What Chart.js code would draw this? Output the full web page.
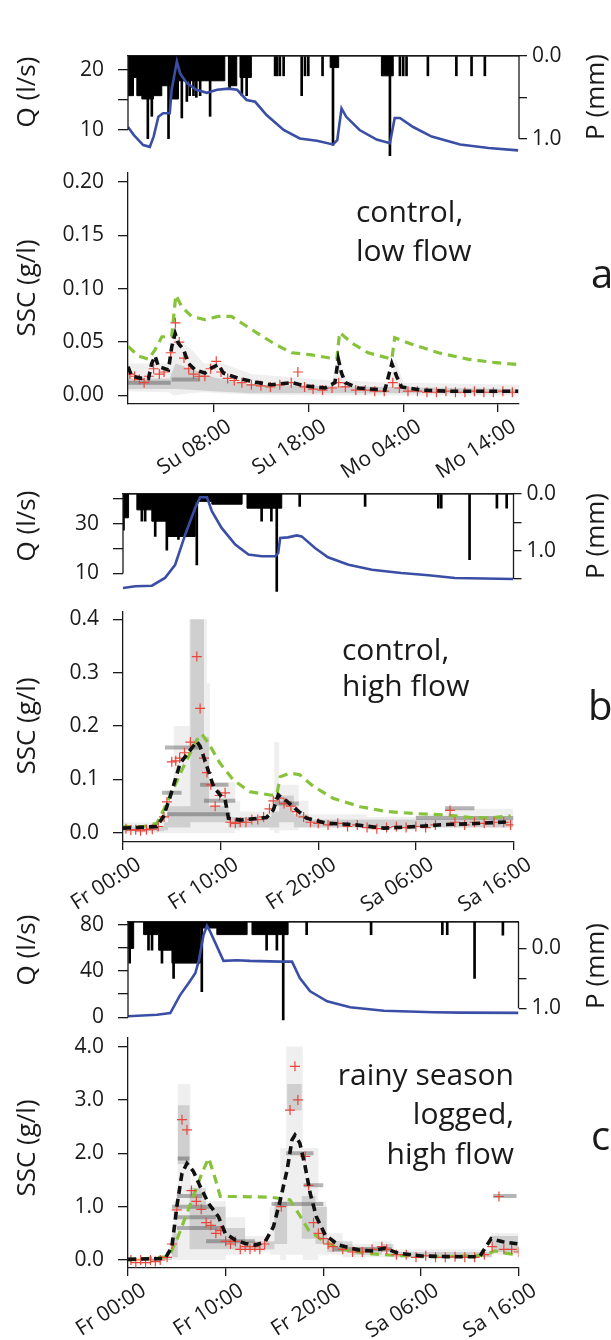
<!DOCTYPE html>
<html>
<head>
<meta charset="utf-8">
<script src="https://cdn.jsdelivr.net/npm/chart.js@4"></script>
<style>
  body { margin: 0; background: #fff; }
  #wrap { position: relative; width: 611px; height: 1340px; }
  #wrap canvas { position: absolute; left: 0; top: 0; }
</style>
</head>
<body>
<div id="wrap">
  <canvas id="qA" width="611" height="1340"></canvas>
  <canvas id="sA" width="611" height="1340"></canvas>
  <canvas id="qB" width="611" height="1340"></canvas>
  <canvas id="sB" width="611" height="1340"></canvas>
  <canvas id="qC" width="611" height="1340"></canvas>
  <canvas id="sC" width="611" height="1340"></canvas>
</div>
<script>
// ---------- panel a: control, low flow (hours from Su 00:00) ----------
const xRangeA = [-1, 40.2];
const xTicksA = [8, 18, 28, 38];
const xLabelsA = ['Su 08:00', 'Su 18:00', 'Mo 04:00', 'Mo 14:00'];

const qTimeA = [-1, -0.4, 0.6, 1.3, 1.7, 2.2, 2.7, 3.4, 3.6, 4.15, 4.5, 5.2, 6.2, 7.3, 8.4, 9.6, 10.5, 11.5, 12.4, 13.6, 15.4, 17.1, 18.9, 20.6, 21.05, 21.5, 22.0, 23.4, 25.2, 26.6, 27.1, 27.65, 29.05, 31, 34, 37, 40.1];
const qA = [10.5, 9.2, 7.5, 7.2, 8.9, 12.2, 12.8, 12.8, 16.7, 21.4, 19.4, 17.8, 16.7, 16.2, 16.7, 16.9, 16.7, 15.0, 14.7, 12.5, 10.0, 8.6, 8.2, 7.6, 8.3, 13.6, 12.2, 10.0, 8.4, 7.8, 12.0, 12.0, 10.5, 8.9, 7.6, 7.0, 6.6];
const qRangeA = [5.67, 22.33];
const qTicksA = [10, 15, 20];
const qLabelsA = [10, 20];

const pBlkTimeA = [-1, -0.42, -0.07, 0.46, 1.69, 2.56, 3.44, 4.32, 9.2, 9.58, 10.46, 10.8, 12.0, 20.3, 21.2, 25.7, 26.95, 40.2];
const pBlkA = [0.48, 0.26, 0.48, 0.52, 0.48, 0.36, 0.52, 0.3, 0, 0.36, 0, 0.26, 0, 0.14, 0, 0.24, 0, 0];
const pSpkTimeA = [1.09, 1.51, 3.27, 4.67, 5.2, 5.5, 5.9, 6.2, 6.6, 7.65, 9.7, 11.0, 11.5, 14.5, 14.7, 15.0, 15.4, 17.3, 17.65, 18.0, 19.5, 20.6, 26.6, 27.65, 28.0, 28.35, 30.6, 33.6, 35.2, 36.6];
const pSpkA = [1.0, 0.73, 1.0, 0.75, 0.55, 0.48, 0.48, 0.5, 0.48, 0.73, 0.4, 0.48, 0.48, 0.24, 0.24, 0.24, 0.24, 0.48, 0.24, 0.24, 0.24, 1.08, 1.21, 0.24, 0.24, 0.24, 0.24, 0.24, 0.24, 0.24];
const pRangeA = [0, 1.21];
const pTicksA = [0, 0.5, 1.0];
const pLabelsA = [0, 1];

const sRangeA = [-0.008, 0.2084];
const sTicksA = [0, 0.05, 0.10, 0.15, 0.20];
const gTimeA = [-1, 0.1, 1.16, 1.86, 2.57, 3.6, 4.04, 4.67, 5.7, 7.1, 8.5, 9.9, 11.3, 12.7, 14.5, 16.25, 18.36, 21.0, 21.3, 22.6, 24.3, 26.8, 27.1, 28.9, 31.7, 34.8, 37.5, 40.1];
const gA = [0.046, 0.037, 0.034, 0.043, 0.055, 0.055, 0.094, 0.083, 0.074, 0.071, 0.074, 0.074, 0.066, 0.058, 0.048, 0.040, 0.038, 0.034, 0.059, 0.049, 0.040, 0.034, 0.054, 0.048, 0.040, 0.034, 0.031, 0.029];
const bTimeA = [-1, -0.6, 0.46, 1.16, 1.5, 1.86, 2.2, 3.26, 3.62, 3.97, 4.3, 4.85, 5.37, 6.07, 7.1, 7.83, 8.53, 9.05, 10.63, 12.4, 14.1, 16.25, 17.65, 19.76, 20.8, 21.16, 21.5, 21.9, 23.26, 26.07, 26.8, 27.3, 27.83, 29.9, 32.7, 36, 40.1];
const bA = [0.027, 0.018, 0.016, 0.016, 0.030, 0.037, 0.027, 0.024, 0.046, 0.058, 0.049, 0.043, 0.030, 0.024, 0.021, 0.026, 0.029, 0.021, 0.016, 0.0125, 0.010, 0.012, 0.009, 0.007, 0.012, 0.034, 0.021, 0.012, 0.007, 0.005, 0.030, 0.018, 0.008, 0.005, 0.004, 0.004, 0.004];
const rTimeA = [-0.8, -0.3, 0.2, 0.7, 1.2, 1.7, 2.3, 2.8, 3.5, 4.0, 4.4, 4.9, 5.4, 5.9, 6.5, 7.1, 7.7, 8.3, 8.8, 9.5, 10.2, 11, 12, 13, 14, 15, 16.2, 16.9, 17.6, 18.5, 19.5, 20.5, 21.2, 21.9, 23, 24, 25, 26, 26.9, 27.6, 28.5, 29.5, 30.5, 31.5, 32.5, 33.5, 34.5, 35.5, 36.5, 37.5, 38.5, 39.5];
const rA = [0.02, 0.018, 0.015, 0.012, 0.018, 0.025, 0.02, 0.022, 0.04, 0.068, 0.05, 0.035, 0.025, 0.02, 0.018, 0.018, 0.025, 0.032, 0.022, 0.016, 0.014, 0.012, 0.01, 0.009, 0.008, 0.01, 0.012, 0.022, 0.008, 0.006, 0.005, 0.007, 0.012, 0.008, 0.005, 0.005, 0.004, 0.004, 0.012, 0.007, 0.004, 0.004, 0.003, 0.003, 0.004, 0.003, 0.003, 0.004, 0.003, 0.003, 0.004, 0.003];
// spread of the individual estimates: outer envelope, dense core, dense streaks
const grayTimeA = [-1, 3.3, 3.8, 5.5, 7, 9, 12, 20.5, 21.1, 22, 26.6, 27.2, 28, 40.2];
const grayLoA = [0.004, 0.003, 0.0, 0.002, 0.003, 0.002, 0.001, 0, 0, 0, 0, 0, 0, 0];
const grayHiA = [0.03, 0.03, 0.055, 0.045, 0.03, 0.03, 0.02, 0.014, 0.035, 0.014, 0.012, 0.035, 0.012, 0.01];
const coreTimeA = [-1, 3.4, 4, 6, 8, 12, 40.2];
const coreLoA = [0.006, 0.006, 0.006, 0.005, 0.004, 0.002, 0.002];
const coreHiA = [0.016, 0.016, 0.03, 0.024, 0.017, 0.01, 0.006];
const streakFromA = [3.6, -1];
const streakToA = [6.5, 3.5];
const streakA = [0.015, 0.012];

// ---------- panel b: control, high flow (hours from Fr 00:00) ----------
const xRangeB = [0, 40];
const xTicksB = [0, 10, 20, 30, 40];
const xLabelsB = ['Fr 00:00', 'Fr 10:00', 'Fr 20:00', 'Sa 06:00', 'Sa 16:00'];

const qTimeB = [0, 1.25, 2.96, 4.3, 5.34, 6.37, 7.39, 7.9, 8.6, 9.1, 10.1, 11.5, 12.85, 14.2, 15.6, 15.9, 16.1, 16.9, 17.8, 18.3, 19.67, 21.0, 23.1, 25.5, 28.5, 31.3, 34, 37, 40];
const qB = [4.2, 4.9, 5.1, 8.2, 13.5, 25.6, 36.3, 40.6, 40.6, 35.0, 28.3, 21.6, 17.6, 16.9, 16.9, 18.2, 24.3, 24.5, 25.3, 24.9, 20.2, 16.5, 13.5, 11.5, 10.2, 9.3, 8.2, 8.0, 7.8];
const qRangeB = [2.57, 41.9];
const qTicksB = [10, 20, 30, 40];
const qLabelsB = [10, 30];

const pBlkTimeB = [0, 0.57, 1.42, 2.95, 4.49, 7.4, 9.1, 12.2, 12.7, 16.26, 40];
const pBlkB = [0.42, 0, 0.28, 0.48, 0.75, 0.13, 0.18, 0, 0.25, 0, 0];
const pSpkTimeB = [0.05, 1.93, 2.27, 3.3, 4.49, 5.68, 7.56, 14.2, 15.2, 15.75, 18.1, 24.8, 32.3, 32.6, 35.5, 38.3, 39.3];
const pSpkB = [0.64, 0.48, 0.48, 0.75, 0.99, 0.8, 1.25, 0.48, 0.48, 1.72, 0.22, 0.22, 0.25, 0.25, 1.16, 0.25, 0.25];
const pRangeB = [0, 1.73];
const pTicksB = [0, 0.5, 1.0, 1.5];
const pLabelsB = [0, 1];

const sRangeB = [-0.017, 0.414];
const sTicksB = [0, 0.1, 0.2, 0.3, 0.4];
const gTimeB = [0, 2.1, 3.47, 4.5, 6.2, 7.56, 8.07, 8.75, 9.95, 11.3, 13.0, 15.07, 15.75, 16.1, 17.1, 18.1, 19.5, 21.5, 24.3, 27.0, 30.1, 32.8, 35.5, 37.5, 39.7];
const gB = [0.012, 0.012, 0.018, 0.056, 0.124, 0.174, 0.185, 0.168, 0.13, 0.099, 0.077, 0.071, 0.071, 0.105, 0.112, 0.109, 0.087, 0.065, 0.049, 0.040, 0.036, 0.034, 0.029, 0.028, 0.032];
const bTimeB = [0, 3.47, 4.15, 4.83, 5.85, 6.88, 7.56, 7.9, 8.6, 9.27, 9.95, 10.46, 10.8, 12.0, 14.7, 15.4, 15.9, 16.8, 17.8, 18.8, 20.9, 23.6, 26.7, 30.1, 32.8, 35.5, 39.7];
const bB = [0.009, 0.012, 0.031, 0.068, 0.13, 0.155, 0.171, 0.162, 0.124, 0.087, 0.071, 0.062, 0.0275, 0.024, 0.029, 0.043, 0.071, 0.059, 0.043, 0.0275, 0.018, 0.0155, 0.009, 0.012, 0.0155, 0.017, 0.021];
const rTimeB = [0.3, 0.8, 1.3, 1.8, 2.4, 3, 3.6, 4.2, 4.5, 5.0, 5.4, 5.8, 6.3, 6.9, 7.56, 7.9, 8.3, 8.6, 9.0, 9.44, 9.9, 10.46, 11, 11.5, 12, 12.6, 13.2, 13.8, 14.4, 15.0, 15.4, 16, 16.5, 17.2, 17.8, 18.5, 19.2, 20, 21, 22, 23, 24, 25, 26, 27, 28, 29, 30, 31, 32, 33.5, 34, 35, 36, 37, 38, 39, 39.7];
const rB = [0.008, 0.005, 0.006, 0.004, 0.006, 0.007, 0.012, 0.03, 0.058, 0.133, 0.135, 0.14, 0.15, 0.17, 0.33, 0.233, 0.14, 0.113, 0.09, 0.05, 0.07, 0.075, 0.02, 0.018, 0.02, 0.02, 0.025, 0.025, 0.03, 0.045, 0.06, 0.065, 0.055, 0.05, 0.04, 0.03, 0.02, 0.018, 0.015, 0.018, 0.012, 0.015, 0.01, 0.008, 0.01, 0.012, 0.01, 0.012, 0.01, 0.015, 0.042, 0.02, 0.015, 0.02, 0.018, 0.02, 0.02, 0.015];
const grayTimeB = [0, 4.0, 4.5, 5.2, 6.8, 8.6, 8.9, 11.5, 12, 15, 15.5, 16, 18, 19, 25, 30, 33, 40];
const grayLoB = [0, 0, 0, 0, 0, 0, 0, 0.005, 0.01, 0.005, 0, 0.005, 0.01, 0.01, 0.005, 0.01, 0.01, 0.01];
const grayHiB = [0.02, 0.035, 0.08, 0.2, 0.4, 0.28, 0.095, 0.06, 0.04, 0.07, 0.17, 0.09, 0.06, 0.035, 0.03, 0.035, 0.045, 0.04];
const coreTimeB = [0, 4.2, 4.6, 6.9, 8.3, 8.8, 10.8, 15.2, 16, 17.5, 19, 40];
const coreLoB = [0.003, 0.005, 0.01, 0.02, 0.02, 0.02, 0.01, 0.01, 0.02, 0.01, 0.01, 0.01];
const coreHiB = [0.012, 0.02, 0.05, 0.4, 0.18, 0.05, 0.03, 0.04, 0.07, 0.035, 0.025, 0.03];
const streakFromB = [4.3, 7.9, 8.3, 4.0, 4.5, 15.5, 33, 30];
const streakToB = [7.9, 10.8, 11.5, 6.0, 11.0, 18.0, 36, 40];
const streakB = [0.16, 0.09, 0.06, 0.075, 0.035, 0.055, 0.046, 0.028];

// ---------- panel c: rainy season, logged, high flow ----------
const xRangeC = [0, 40];
const xTicksC = [0, 10, 20, 30, 40];
const xLabelsC = ['Fr 00:00', 'Fr 10:00', 'Fr 20:00', 'Sa 06:00', 'Sa 16:00'];

const qTimeC = [0, 2.97, 4.33, 5.35, 6.2, 6.89, 7.23, 7.74, 8.09, 8.42, 9.78, 11.16, 12.5, 15.6, 16.8, 17.6, 18.66, 20.4, 22.75, 26.2, 31.3, 34, 40];
const qC = [0.9, 2.2, 3.7, 19.4, 29.5, 38, 48, 71, 79, 74, 48.7, 49.3, 48.7, 48.1, 48.1, 33.8, 22.4, 13.8, 8.6, 5.7, 4.3, 4, 3.8];
const qRangeC = [-3.2, 82.3];
const qTicksC = [0, 20, 40, 60, 80];
const qLabelsC = [0, 40, 80];

const pBlkTimeC = [0, 0.58, 1.6, 3.14, 4.5, 7.4, 9.1, 12.2, 12.7, 16.4, 40];
const pBlkC = [0.0, -0.44, -0.23, 0.03, 0.245, -0.34, -0.23, -0.44, -0.23, -0.44, -0.44];
const pSpkTimeC = [0.17, 2.1, 2.46, 3.48, 4.67, 7.56, 14.2, 15.25, 15.9, 18.3, 24.9, 32.2, 32.7, 35.5, 38.4];
const pSpkC = [0.245, 0.03, 0.03, 0.245, 0.5, 0.72, 0.03, 0.03, 1.19, -0.23, -0.23, -0.23, -0.23, 0.5, -0.22];
const pRangeC = [-0.44, 1.21];
const pTicksC = [0, 0.5, 1.0];
const pLabelsC = [0, 1];

const sRangeC = [-0.15, 4.16];
const sTicksC = [0, 1, 2, 3, 4];
const gTimeC = [0, 4.16, 5.0, 6.55, 7.57, 8.25, 8.77, 9.45, 11.3, 14.7, 16.6, 17.46, 18.5, 19.86, 21.56, 24.3, 26.7, 30.1, 32.8, 36.4, 37.6, 38.8, 40];
const gC = [0, 0.06, 0.375, 1.125, 1.625, 1.91, 1.63, 1.19, 1.19, 1.175, 1.125, 0.875, 0.56, 0.375, 0.22, 0.125, 0.094, 0.063, 0.063, 0.09, 0.17, 0.125, 0.09];
const bTimeC = [0, 3.82, 4.5, 5.0, 5.53, 6.04, 6.7, 7.4, 8.25, 9.27, 9.96, 10.98, 12.0, 13.03, 14.05, 14.9, 15.6, 16.3, 16.8, 17.1, 17.6, 18.15, 18.66, 19.3, 20.2, 21.56, 23.6, 24.9, 26.3, 27.7, 30.1, 32.8, 36, 37.2, 38.4, 40];
const bC = [0.0125, 0.03, 0.25, 1.0, 1.625, 1.81, 1.66, 1.375, 1.06, 0.81, 0.5, 0.375, 0.31, 0.28, 0.34, 0.625, 1.125, 1.69, 2.25, 2.34, 2.19, 1.75, 1.25, 0.81, 0.47, 0.28, 0.19, 0.17, 0.22, 0.125, 0.075, 0.063, 0.06, 0.4, 0.34, 0.3];
const rTimeC = [0.3, 0.8, 1.3, 1.8, 2.3, 2.8, 3.3, 4.0, 4.5, 5.0, 5.53, 6.04, 6.5, 7, 7.5, 8, 8.5, 9, 9.5, 10, 10.5, 11, 11.5, 12, 12.5, 13, 13.5, 14, 15.7, 16.6, 17.1, 17.4, 18.15, 18.5, 19, 19.5, 20, 20.5, 21, 22, 23, 24, 25, 26, 26.5, 27.5, 28.5, 29.5, 30.5, 31.5, 32.5, 33.5, 34.5, 35.5, 36.5, 37.3, 38, 38.5, 39.3, 40];
const rC = [0, -0.05, 0, -0.05, 0, -0.03, 0, 0.05, 0.3, 0.94, 2.63, 2.44, 1.3, 1.1, 0.95, 0.7, 0.65, 0.5, 0.55, 0.35, 0.3, 0.35, 0.2, 0.25, 0.2, 0.25, 0.2, 0.3, 1.0, 2.81, 3.63, 3.0, 1.94, 1.4, 0.7, 0.5, 0.4, 0.3, 0.25, 0.2, 0.15, 0.15, 0.2, 0.25, 0.2, 0.1, 0.1, 0.05, 0.08, 0.05, 0.05, 0.06, 0.05, 0.05, 0.1, 0.25, 1.19, 0.2, 0.2, 0.15];
const grayTimeC = [0, 4.2, 4.7, 5.1, 6.4, 7.5, 10, 12, 14.5, 15.6, 16.2, 17.9, 19.5, 20.3, 22, 25, 27, 36.5, 37.2, 40];
const grayLoC = [0, 0, 0, 0, 0, 0, 0.1, 0.15, 0.1, 0, 0.1, 0, 0.1, 0.1, 0.05, 0.05, 0.05, 0.05, 0.1, 0.1];
const grayHiC = [0.05, 0.4, 1.1, 3.3, 1.4, 1.1, 0.8, 0.45, 1.0, 2.1, 4.0, 2.1, 1.1, 0.5, 0.3, 0.35, 0.2, 0.2, 0.5, 0.5];
const coreTimeC = [0, 4.5, 5.1, 6.3, 8, 10, 12, 15, 16.3, 17.8, 19.2, 20.4, 23, 26, 27.2, 37.3, 40];
const coreLoC = [0, 0.05, 1.8, 0.2, 0.2, 0.2, 0.2, 0.3, 2.8, 0.4, 0.3, 0.15, 0.1, 0.15, 0.05, 0.15, 0.15];
const coreHiC = [0.03, 0.5, 2.9, 1.35, 1.0, 0.6, 0.35, 1.1, 3.3, 1.2, 1.0, 0.35, 0.25, 0.3, 0.15, 0.45, 0.45];
const streakFromC = [16.2, 18, 14.7, 5.0, 4.5, 4.8, 5.0, 37.4, 8, 21, 5.1];
const streakToC = [19.0, 20, 20.0, 7.6, 8.5, 9.0, 9.5, 39.8, 13, 27, 6.3];
const streakC = [2.0, 1.4, 1.05, 1.2, 1.0, 0.8, 0.6, 1.2, 0.35, 0.2, 1.9];

// ---------- drawing ----------
Chart.defaults.font.family = "'Open Sans', sans-serif";
Chart.defaults.font.size = 21;
Chart.defaults.color = '#1a1a1a';

const W = 611, H = 1340;
const INK = '#1a1a1a';
const FONT = "'Open Sans', sans-serif";

function pts(xs, ys) {
  return xs.map((x, i) => ({ x: x, y: ys[i] }));
}

// horizontal segments, separated by gaps
function segments(from, to, ys) {
  const out = [];
  ys.forEach((y, i) => {
    out.push({ x: from[i], y: y }, { x: to[i], y: y }, { x: to[i], y: null });
  });
  return out;
}

function setTicks(values) {
  return function (scale) {
    scale.ticks = values.map(v => ({ value: v }));
  };
}

function labelOnly(shown, digits) {
  return function (value) {
    return shown.indexOf(value) >= 0 ? value.toFixed(digits) : '';
  };
}

// axis lines that stop at the last tick (R style) + free text
const panelExtras = {
  id: 'panelExtras',
  afterDraw(chart, args, opts) {
    const ctx = chart.ctx;
    const area = chart.chartArea;
    ctx.save();
    ctx.strokeStyle = INK;
    ctx.lineWidth = 1.3;
    (opts.axisLines || []).forEach(a => {
      const s = chart.scales[a.id];
      const x = a.side === 'left' ? area.left : area.right;
      ctx.beginPath();
      ctx.moveTo(x, area.top);
      ctx.lineTo(x, s.getPixelForValue(a.to));
      ctx.stroke();
    });
    ctx.fillStyle = INK;
    (opts.texts || []).forEach(t => {
      ctx.save();
      ctx.font = t.size + 'px ' + FONT;
      ctx.textAlign = t.align || 'left';
      ctx.textBaseline = t.baseline || 'alphabetic';
      ctx.translate(t.x, t.y);
      if (t.rot) ctx.rotate(t.rot * Math.PI / 180);
      ctx.fillText(t.text, 0, 0);
      ctx.restore();
    });
    ctx.restore();
  }
};

function qpChart(id, box, d) {
  return new Chart(document.getElementById(id), {
    type: 'line',
    data: {
      datasets: [
        {
          label: 'Q', data: pts(d.qTime, d.q), yAxisID: 'yQ',
          borderColor: '#3a4ea5', borderWidth: 2.6, pointRadius: 0, order: 1
        },
        {
          type: 'bar', label: 'P', data: pts(d.spkTime, d.spk), yAxisID: 'yP',
          backgroundColor: '#000', barThickness: 2, base: d.pRange[0], grouped: false, order: 2
        },
        {
          label: 'P', data: pts(d.blkTime, d.blk), yAxisID: 'yP', stepped: true, fill: 'end',
          backgroundColor: '#000', borderColor: '#000', borderWidth: 1, pointRadius: 0, order: 3
        }
      ]
    },
    options: {
      responsive: false,
      animation: false,
      layout: { padding: { top: box.t, bottom: H - box.b, left: 0, right: 0 } },
      plugins: {
        legend: { display: false },
        tooltip: { enabled: false },
        panelExtras: {
          axisLines: [
            { id: 'yQ', side: 'left', to: Math.min(...d.qTicks) },
            { id: 'yP', side: 'right', to: Math.max(...d.pTicks) }
          ],
          texts: d.texts
        }
      },
      scales: {
        x: {
          type: 'linear', position: 'top', min: d.xRange[0], max: d.xRange[1], offset: false,
          ticks: { display: false },
          grid: { display: false },
          border: { display: true, color: INK, width: 1.3 },
          afterFit: s => { s.height = 0; }
        },
        yQ: {
          type: 'linear', position: 'left', min: d.qRange[0], max: d.qRange[1],
          afterBuildTicks: setTicks(d.qTicks),
          ticks: { callback: labelOnly(d.qLabels, 0), padding: 14, autoSkip: false },
          grid: { drawOnChartArea: false, tickLength: 10, color: INK, lineWidth: 1.3 },
          border: { display: false },
          afterFit: s => { s.width = box.l; }
        },
        yP: {
          type: 'linear', position: 'right', reverse: true, min: d.pRange[0], max: d.pRange[1],
          afterBuildTicks: setTicks(d.pTicks),
          ticks: { callback: labelOnly(d.pLabels, 1), padding: 5, autoSkip: false },
          grid: { drawOnChartArea: false, tickLength: 8, color: INK, lineWidth: 1.3 },
          border: { display: false },
          afterFit: s => { s.width = W - box.r; }
        }
      }
    },
    plugins: [panelExtras]
  });
}

function sscChart(id, box, d) {
  const xh = 80;
  const clear = 'rgba(0,0,0,0)';
  return new Chart(document.getElementById(id), {
    type: 'line',
    data: {
      datasets: [
        {
          label: 'median', data: pts(d.bTime, d.b), borderColor: '#111', borderWidth: 3.6,
          borderDash: [8, 5], pointRadius: 0, order: 1
        },
        {
          label: 'samples', data: pts(d.rTime, d.r), showLine: false, pointStyle: 'cross',
          pointRadius: 5, pointBorderColor: '#e8463a', pointBorderWidth: 1.2, order: 2
        },
        {
          label: 'Q based', data: pts(d.gTime, d.g), borderColor: '#86c23a', borderWidth: 3.2,
          borderDash: [9, 6], pointRadius: 0, order: 3
        },
        {
          label: 'streaks', data: segments(d.streakFrom, d.streakTo, d.streak),
          borderColor: 'rgba(60,60,60,0.38)', borderWidth: 4, pointRadius: 0, spanGaps: false, order: 4
        },
        {
          label: 'core lo', data: pts(d.coreTime, d.coreLo), borderColor: clear,
          borderWidth: 0, pointRadius: 0, stepped: d.stepped, order: 5
        },
        {
          label: 'core hi', data: pts(d.coreTime, d.coreHi), borderColor: clear,
          borderWidth: 0, pointRadius: 0, stepped: d.stepped, fill: '-1',
          backgroundColor: 'rgba(80,80,80,0.2)', order: 5
        },
        {
          label: 'spread lo', data: pts(d.grayTime, d.grayLo), borderColor: clear,
          borderWidth: 0, pointRadius: 0, stepped: d.stepped, order: 6
        },
        {
          label: 'spread hi', data: pts(d.grayTime, d.grayHi), borderColor: clear,
          borderWidth: 0, pointRadius: 0, stepped: d.stepped, fill: '-1',
          backgroundColor: 'rgba(130,130,130,0.13)', order: 6
        }
      ]
    },
    options: {
      responsive: false,
      animation: false,
      layout: { padding: { top: box.t, bottom: H - box.b - xh, left: 0, right: W - box.r } },
      plugins: {
        legend: { display: false },
        tooltip: { enabled: false },
        panelExtras: { texts: d.texts }
      },
      scales: {
        x: {
          type: 'linear', position: 'bottom', min: d.xRange[0], max: d.xRange[1], offset: false,
          afterBuildTicks: setTicks(d.xTicks),
          ticks: {
            callback: v => d.xLabels[d.xTicks.indexOf(v)],
            minRotation: 33, maxRotation: 33, autoSkip: false, padding: 2, labelOffset: 16
          },
          grid: { drawOnChartArea: false, tickLength: 8, color: INK, lineWidth: 1.3 },
          border: { display: true, color: INK, width: 1.3 },
          afterFit: s => { s.height = xh; }
        },
        y: {
          type: 'linear', position: 'left', min: d.sRange[0], max: d.sRange[1],
          afterBuildTicks: setTicks(d.sTicks),
          ticks: { callback: v => v.toFixed(d.digits), padding: 14, autoSkip: false },
          grid: { drawOnChartArea: false, tickLength: 10, color: INK, lineWidth: 1.3 },
          border: { display: true, color: INK, width: 1.3 },
          afterFit: s => { s.width = box.l; }
        }
      }
    },
    plugins: [panelExtras]
  });
}

function vtitle(text, x, y) {
  return { text: text, x: x, y: y, size: 26, rot: -90, align: 'center', baseline: 'middle' };
}

qpChart('qA', { l: 128, r: 519, t: 56, b: 156 }, {
  xRange: xRangeA, qTime: qTimeA, q: qA, qRange: qRangeA, qTicks: qTicksA, qLabels: qLabelsA,
  blkTime: pBlkTimeA, blk: pBlkA, spkTime: pSpkTimeA, spk: pSpkA,
  pRange: pRangeA, pTicks: pTicksA, pLabels: pLabelsA,
  texts: [vtitle('Q (l/s)', 28, 92), vtitle('P (mm)', 597, 97)]
});

sscChart('sA', { l: 128, r: 519, t: 173, b: 404 }, {
  xRange: xRangeA, xTicks: xTicksA, xLabels: xLabelsA,
  sRange: sRangeA, sTicks: sTicksA, digits: 2, stepped: false,
  gTime: gTimeA, g: gA, bTime: bTimeA, b: bA, rTime: rTimeA, r: rA,
  grayTime: grayTimeA, grayLo: grayLoA, grayHi: grayHiA,
  coreTime: coreTimeA, coreLo: coreLoA, coreHi: coreHiA,
  streakFrom: streakFromA, streakTo: streakToA, streak: streakA,
  texts: [
    vtitle('SSC (g/l)', 28, 288),
    { text: 'control,', x: 356, y: 222, size: 30 },
    { text: 'low flow', x: 356, y: 261, size: 30 },
    { text: 'a', x: 591, y: 288, size: 40 }
  ]
});

qpChart('qB', { l: 123, r: 513.5, t: 494, b: 592 }, {
  xRange: xRangeB, qTime: qTimeB, q: qB, qRange: qRangeB, qTicks: qTicksB, qLabels: qLabelsB,
  blkTime: pBlkTimeB, blk: pBlkB, spkTime: pSpkTimeB, spk: pSpkB,
  pRange: pRangeB, pTicks: pTicksB, pLabels: pLabelsB,
  texts: [vtitle('Q (l/s)', 28, 526), vtitle('P (mm)', 597, 536)]
});

sscChart('sB', { l: 123, r: 513.5, t: 611.7, b: 842 }, {
  xRange: xRangeB, xTicks: xTicksB, xLabels: xLabelsB,
  sRange: sRangeB, sTicks: sTicksB, digits: 1, stepped: true,
  gTime: gTimeB, g: gB, bTime: bTimeB, b: bB, rTime: rTimeB, r: rB,
  grayTime: grayTimeB, grayLo: grayLoB, grayHi: grayHiB,
  coreTime: coreTimeB, coreLo: coreLoB, coreHi: coreHiB,
  streakFrom: streakFromB, streakTo: streakToB, streak: streakB,
  texts: [
    vtitle('SSC (g/l)', 28, 726),
    { text: 'control,', x: 342, y: 660, size: 30 },
    { text: 'high flow', x: 342, y: 696, size: 30 },
    { text: 'b', x: 588, y: 720, size: 40 }
  ]
});

qpChart('qC', { l: 128, r: 518.5, t: 922, b: 1021 }, {
  xRange: xRangeC, qTime: qTimeC, q: qC, qRange: qRangeC, qTicks: qTicksC, qLabels: qLabelsC,
  blkTime: pBlkTimeC, blk: pBlkC, spkTime: pSpkTimeC, spk: pSpkC,
  pRange: pRangeC, pTicks: pTicksC, pLabels: pLabelsC,
  texts: [vtitle('Q (l/s)', 28, 950), vtitle('P (mm)', 597, 966)]
});

sscChart('sC', { l: 128, r: 518.5, t: 1038, b: 1268 }, {
  xRange: xRangeC, xTicks: xTicksC, xLabels: xLabelsC,
  sRange: sRangeC, sTicks: sTicksC, digits: 1, stepped: true,
  gTime: gTimeC, g: gC, bTime: bTimeC, b: bC, rTime: rTimeC, r: rC,
  grayTime: grayTimeC, grayLo: grayLoC, grayHi: grayHiC,
  coreTime: coreTimeC, coreLo: coreLoC, coreHi: coreHiC,
  streakFrom: streakFromC, streakTo: streakToC, streak: streakC,
  texts: [
    vtitle('SSC (g/l)', 28, 1148),
    { text: 'rainy season', x: 514, y: 1085, size: 30, align: 'right' },
    { text: 'logged,', x: 514, y: 1124, size: 30, align: 'right' },
    { text: 'high flow', x: 514, y: 1164, size: 30, align: 'right' },
    { text: 'c', x: 591, y: 1150, size: 40 }
  ]
});
</script>
</body>
</html>
